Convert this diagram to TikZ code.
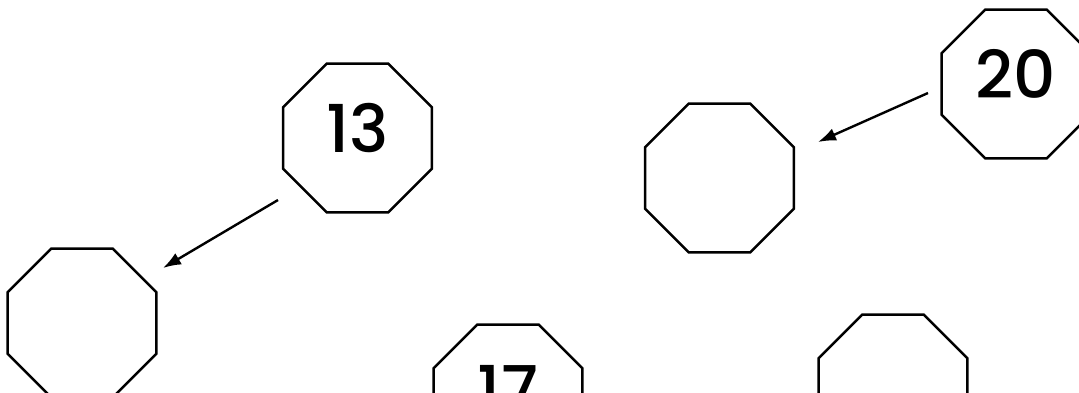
\documentclass[tikz,border=0pt]{standalone}
\usepackage{fontspec}
\setmainfont{Poppins}[UprightFont=* Medium]
\usetikzlibrary{shapes.geometric,arrows.meta}

\begin{document}
\begin{tikzpicture}[x=1pt,y=-1pt,
  oct/.style={regular polygon,regular polygon sides=8,draw,line width=2.4pt,
    minimum size=161pt,inner sep=0pt,text depth=20pt,
    font=\fontsize{66}{70}\selectfont},
  arr/.style={-{Latex[length=18pt,width=13pt]},line width=2.4pt}]
  \clip (0,0) rectangle (1079,392);

  \node[oct] (n13) at (357.5,138) {13};
  \node[oct] (n20) at (1016,84) {20};
  \node[oct] (n17) at (508,399) {17};
  \node[oct] (e1) at (82,323) {};
  \node[oct] (e2) at (719.5,178) {};
  \node[oct] (e3) at (893,389) {};

  \draw[arr] ([shift={(-79.5,62)}]n13.center) -- ([shift={(81,-55)}]e1.center);
  \draw[arr] ([shift={(-88,9)}]n20.center) -- ([shift={(98.5,-36)}]e2.center);
\end{tikzpicture}
\end{document}
